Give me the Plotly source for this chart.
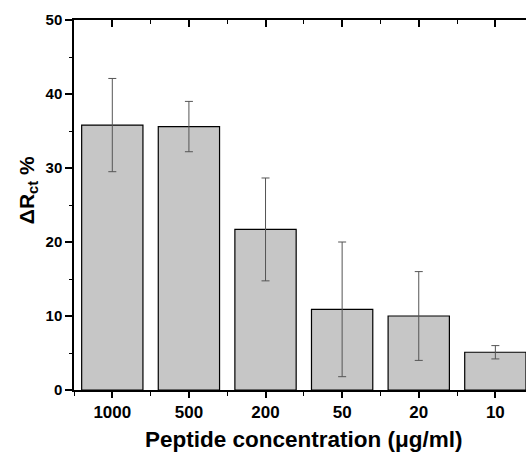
import plotly.graph_objects as go

categories = ["1000", "500", "200", "50", "20", "10"]
values = [35.8, 35.6, 21.7, 10.9, 10.0, 5.1]
errors = [6.3, 3.4, 6.95, 9.1, 6.0, 0.9]

FONT = "Liberation Sans, Arial, sans-serif"
xpos = list(range(len(categories)))

fig = go.Figure()
fig.add_trace(go.Bar(
    x=xpos, y=values, width=0.8,
    marker=dict(color="#c6c6c6", line=dict(color="#000000", width=1.2)),
    error_y=dict(type="data", array=errors, visible=True,
                 color="#555555", thickness=1, width=4),
    showlegend=False,
))
# invisible trace to hold the top mirror axis
fig.add_trace(go.Scatter(x=[0], y=[0], xaxis="x2", mode="markers",
                         marker=dict(opacity=0), showlegend=False, hoverinfo="skip"))

xr = [-0.5, 5.4]
fig.update_layout(
    width=526, height=456,
    margin=dict(l=74, r=0, t=20, b=66),
    paper_bgcolor="white", plot_bgcolor="white",
    font=dict(family=FONT, color="black"),
    xaxis=dict(
        range=xr, tickmode="array", tickvals=xpos, ticktext=categories,
        showline=True, linecolor="black", linewidth=1.5,
        ticks="outside", ticklen=6, tickwidth=1.5, tickcolor="black",
        minor=dict(tick0=-0.5, dtick=1, ticks="outside", ticklen=4, tickwidth=1.2, tickcolor="black"),
        showgrid=False, zeroline=False,
        tickfont=dict(family=FONT, size=17, weight="bold"),
    ),
    xaxis2=dict(
        range=xr, overlaying="x", side="top", anchor="y",
        tickmode="array", tickvals=xpos, showticklabels=False,
        showline=True, linecolor="black", linewidth=1.5,
        ticks="inside", ticklen=7, tickwidth=1.5, tickcolor="black",
        minor=dict(tick0=-0.5, dtick=1, ticks="inside", ticklen=4, tickwidth=1.2, tickcolor="black"),
        showgrid=False, zeroline=False,
    ),
    yaxis=dict(
        range=[0, 50], tickmode="linear", tick0=0, dtick=10,
        showline=True, linecolor="black", linewidth=1.5,
        ticks="outside", ticklen=7, tickwidth=1.5, tickcolor="black",
        minor=dict(tick0=0, dtick=5, ticks="outside", ticklen=3.5, tickwidth=1.2, tickcolor="black"),
        showgrid=False, zeroline=False,
        tickfont=dict(family=FONT, size=15, weight="bold"),
    ),
    annotations=[
        dict(text="Peptide concentration (μg/ml)", xref="paper", yref="paper",
             x=0.509, y=-0.135, xanchor="center", yanchor="middle", showarrow=False,
             font=dict(family=FONT, size=22.5, weight="bold")),
        dict(text="ΔR<sub>ct</sub> %", xref="paper", yref="paper",
             x=-0.1018, y=0.54, xanchor="center", yanchor="middle", showarrow=False,
             textangle=-90, font=dict(family=FONT, size=21, weight="bold")),
    ],
)

fig.write_html("out.html")
